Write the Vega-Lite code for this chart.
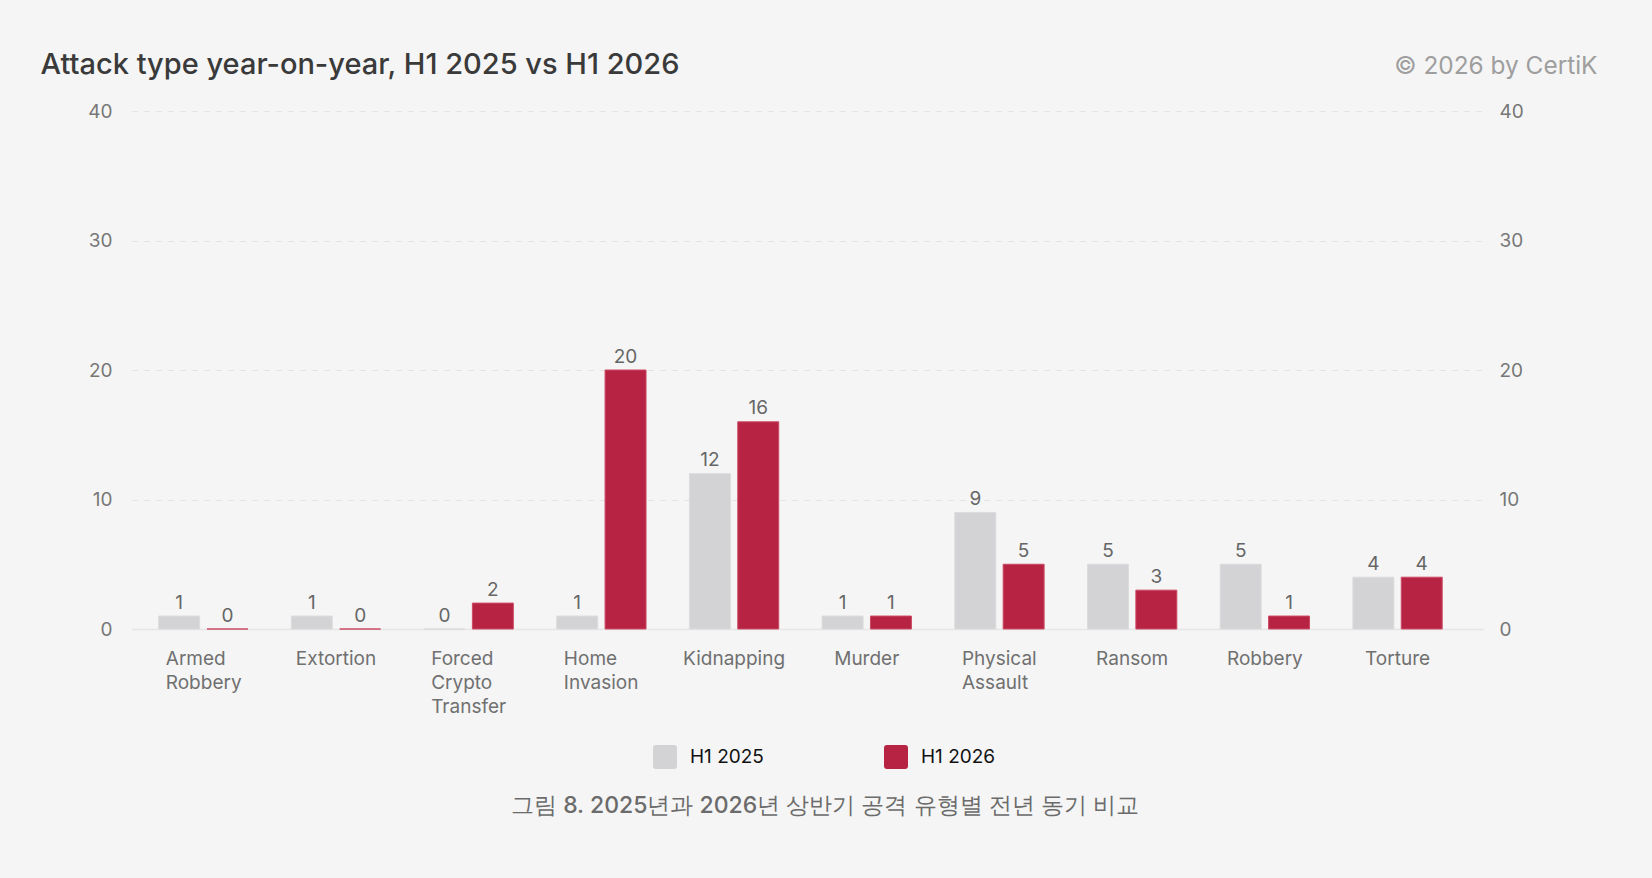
{
  "$schema": "https://vega.github.io/schema/vega-lite/v6.json",
  "width": 1351,
  "height": 518,
  "autosize": "none",
  "padding": {"left": 132, "top": 111, "right": 169, "bottom": 249},
  "background": "#f5f5f5",
  "config": {
    "view": {"stroke": null},
    "font": "Inter",
    "axis": {"labelFont": "Inter", "titleFont": "Inter"},
    "legend": {"labelFont": "Inter"}
  },
  "data": {
    "values": [
      {"type": "Armed Robbery", "period": "H1 2025", "count": 1},
      {"type": "Armed Robbery", "period": "H1 2026", "count": 0},
      {"type": "Extortion", "period": "H1 2025", "count": 1},
      {"type": "Extortion", "period": "H1 2026", "count": 0},
      {"type": "Forced Crypto Transfer", "period": "H1 2025", "count": 0},
      {"type": "Forced Crypto Transfer", "period": "H1 2026", "count": 2},
      {"type": "Home Invasion", "period": "H1 2025", "count": 1},
      {"type": "Home Invasion", "period": "H1 2026", "count": 20},
      {"type": "Kidnapping", "period": "H1 2025", "count": 12},
      {"type": "Kidnapping", "period": "H1 2026", "count": 16},
      {"type": "Murder", "period": "H1 2025", "count": 1},
      {"type": "Murder", "period": "H1 2026", "count": 1},
      {"type": "Physical Assault", "period": "H1 2025", "count": 9},
      {"type": "Physical Assault", "period": "H1 2026", "count": 5},
      {"type": "Ransom", "period": "H1 2025", "count": 5},
      {"type": "Ransom", "period": "H1 2026", "count": 3},
      {"type": "Robbery", "period": "H1 2025", "count": 5},
      {"type": "Robbery", "period": "H1 2026", "count": 1},
      {"type": "Torture", "period": "H1 2025", "count": 4},
      {"type": "Torture", "period": "H1 2026", "count": 4}
    ]
  },
  "encoding": {
    "x": {
      "field": "type",
      "type": "nominal",
      "sort": null,
      "scale": {"paddingInner": 0.327, "paddingOuter": 0.254, "align": 0.395},
      "axis": {
        "labelExpr": "split(datum.label, ' ')",
        "labelAngle": 0,
        "labelFontSize": 19,
        "labelColor": "#707070",
        "labelLineHeight": 24,
        "labelBaseline": "top",
        "labelPadding": 20,
        "labelAlign": {"condition": {"test": "indexof(datum.value, ' ') >= 0", "value": "left"}, "value": "center"},
        "labelOffset": {"condition": {"test": "indexof(datum.value, ' ') >= 0", "value": -37.5}, "value": 0},
        "ticks": false,
        "domain": true,
        "domainColor": "#e6e6e6",
        "domainWidth": 1.5,
        "grid": false,
        "title": "그림 8. 2025년과 2026년 상반기 공격 유형별 전년 동기 비교",
        "titleFont": "Inter",
        "titleFontSize": 23,
        "titleFontWeight": 500,
        "titleColor": "#6b6b6b",
        "titleAlign": "center",
        "titleBaseline": "middle",
        "titleX": 692.5,
        "titleY": 176
      }
    },
    "xOffset": {"field": "period", "type": "nominal", "scale": {"paddingInner": 0.153}}
  },
  "layer": [
    {
      "mark": {"type": "bar", "strokeWidth": 1},
      "encoding": {
        "y": {
          "field": "count",
          "type": "quantitative",
          "scale": {"domain": [0, 40], "nice": false},
          "axis": {
            "orient": "left",
            "values": [0, 10, 20, 30, 40],
            "labelFontSize": 19,
            "labelColor": "#777777",
            "labelPadding": 20,
            "ticks": false,
            "domain": false,
            "grid": true,
            "gridColor": "#e1e1e1",
            "gridDash": [5, 7],
            "gridWidth": 1.2,
            "title": "Attack type year-on-year, H1 2025 vs H1 2026",
            "titleFontSize": 29,
            "titleFontWeight": 500,
            "titleColor": "#3a3a3a",
            "titleAngle": 0,
            "titleAlign": "left",
            "titleBaseline": "alphabetic",
            "titleX": -92,
            "titleY": -38
          }
        },
        "color": {
          "field": "period",
          "type": "nominal",
          "scale": {"domain": ["H1 2025", "H1 2026"], "range": ["#d3d2d4", "#b72443"]},
          "legend": {
            "orient": "none",
            "legendX": 521,
            "legendY": 634,
            "direction": "horizontal",
            "title": null,
            "padding": 0,
            "symbolType": "M-0.75,-1H0.75Q1,-1 1,-0.75V0.75Q1,1 0.75,1H-0.75Q-1,1 -1,0.75V-0.75Q-1,-1 -0.75,-1Z",
            "symbolSize": 576,
            "symbolStrokeWidth": 0,
            "symbolOpacity": 1,
            "labelFontSize": 19,
            "labelColor": "#111111",
            "labelOffset": 13,
            "columnPadding": 120
          }
        },
        "stroke": {
          "field": "period",
          "type": "nominal",
          "scale": {"domain": ["H1 2025", "H1 2026"], "range": ["#dcdbdd", "#cc4a64"]},
          "legend": null
        }
      }
    },
    {
      "mark": {"type": "text", "baseline": "alphabetic", "dy": -7.5, "fontSize": 19, "color": "#666666", "font": "Inter"},
      "encoding": {
        "y": {
          "field": "count",
          "type": "quantitative",
          "scale": {"domain": [0, 40], "nice": false},
          "axis": {
            "orient": "right",
            "values": [0, 10, 20, 30, 40],
            "labelFontSize": 19,
            "labelColor": "#777777",
            "labelPadding": 16,
            "ticks": false,
            "domain": false,
            "grid": false,
            "title": "© 2026 by CertiK",
            "titleFontSize": 24.4,
            "titleFontWeight": 400,
            "titleColor": "#9e9e9e",
            "titleAngle": 0,
            "titleAlign": "right",
            "titleBaseline": "alphabetic",
            "titleX": 114,
            "titleY": -38
          }
        },
        "text": {"field": "count", "type": "quantitative"}
      }
    }
  ],
  "resolve": {"axis": {"y": "independent"}}
}
